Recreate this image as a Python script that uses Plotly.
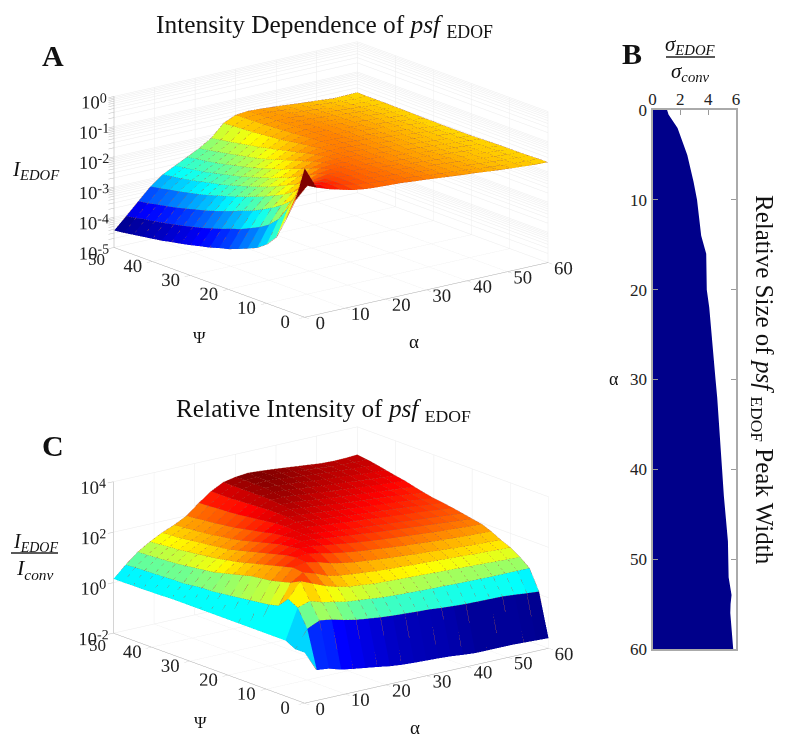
import plotly.graph_objects as go

ALPHA = [0,3,6,9,12,15,18,21,24,27,30,33,36,39,42,45,48,51,54,57,60]
PSI = [0,2.5,5,7.5,10,12.5,15,17.5,20,22.5,25,27.5,30,32.5,35,37.5,40,42.5,45,47.5,50]

# decades above 10^-5, one row per PSI
A_DECADES = [
[4.93,4.2,4.06,3.95,3.85,3.79,3.76,3.74,3.72,3.68,3.65,3.61,3.57,3.53,3.5,3.46,3.42,3.39,3.36,3.33,3.32],
[3.75,4.15,4.1,4.0,3.9,3.83,3.78,3.74,3.72,3.68,3.64,3.6,3.56,3.52,3.49,3.45,3.41,3.38,3.35,3.33,3.32],
[3.0,3.85,4.0,3.98,3.9,3.84,3.79,3.75,3.72,3.68,3.64,3.6,3.56,3.52,3.49,3.45,3.41,3.38,3.35,3.33,3.31],
[2.3,3.2,3.65,3.85,3.88,3.84,3.8,3.76,3.72,3.68,3.64,3.6,3.56,3.52,3.49,3.45,3.41,3.38,3.35,3.32,3.3],
[1.95,2.7,3.2,3.55,3.75,3.82,3.8,3.76,3.72,3.68,3.64,3.6,3.56,3.52,3.49,3.45,3.41,3.38,3.35,3.32,3.3],
[1.72,2.4,2.95,3.3,3.55,3.72,3.78,3.76,3.72,3.68,3.64,3.6,3.56,3.52,3.49,3.45,3.41,3.38,3.35,3.32,3.3],
[1.58,2.2,2.75,3.1,3.35,3.55,3.7,3.74,3.72,3.69,3.65,3.61,3.57,3.53,3.49,3.45,3.41,3.38,3.35,3.32,3.29],
[1.45,2.05,2.58,2.95,3.2,3.4,3.58,3.68,3.7,3.69,3.65,3.61,3.57,3.53,3.49,3.45,3.42,3.38,3.35,3.32,3.28],
[1.33,1.9,2.42,2.8,3.05,3.25,3.45,3.6,3.67,3.68,3.66,3.62,3.58,3.54,3.5,3.46,3.42,3.39,3.35,3.31,3.27],
[1.25,1.8,2.3,2.68,2.92,3.12,3.33,3.5,3.62,3.66,3.66,3.63,3.59,3.55,3.51,3.47,3.43,3.39,3.35,3.31,3.27],
[1.15,1.68,2.18,2.56,2.8,3.0,3.2,3.4,3.55,3.63,3.65,3.63,3.6,3.56,3.52,3.48,3.44,3.4,3.36,3.31,3.27],
[1.08,1.58,2.06,2.45,2.7,2.9,3.1,3.3,3.47,3.6,3.64,3.64,3.6,3.56,3.52,3.48,3.44,3.4,3.36,3.31,3.27],
[1.0,1.48,1.95,2.35,2.6,2.8,3.0,3.2,3.4,3.55,3.62,3.63,3.6,3.57,3.53,3.49,3.45,3.41,3.36,3.32,3.28],
[.93,1.4,1.85,2.25,2.5,2.7,2.9,3.1,3.32,3.5,3.6,3.62,3.6,3.57,3.53,3.49,3.45,3.41,3.37,3.32,3.28],
[.87,1.32,1.77,2.15,2.42,2.62,2.82,3.02,3.25,3.45,3.57,3.6,3.59,3.56,3.53,3.49,3.45,3.41,3.37,3.33,3.29],
[.8,1.25,1.68,2.07,2.35,2.55,2.75,2.95,3.18,3.42,3.55,3.58,3.58,3.55,3.52,3.48,3.45,3.41,3.37,3.33,3.3],
[.75,1.18,1.6,2.0,2.28,2.47,2.67,2.88,3.12,3.39,3.53,3.57,3.56,3.54,3.51,3.47,3.44,3.41,3.37,3.33,3.3],
[.7,1.12,1.53,1.93,2.2,2.4,2.6,2.82,3.06,3.36,3.51,3.55,3.55,3.52,3.49,3.46,3.43,3.4,3.36,3.33,3.31],
[.65,1.07,1.47,1.87,2.15,2.35,2.55,2.76,3.0,3.34,3.5,3.54,3.53,3.5,3.47,3.44,3.41,3.38,3.34,3.32,3.31],
[.6,1.0,1.4,1.8,2.1,2.3,2.5,2.7,2.95,3.32,3.49,3.53,3.51,3.48,3.45,3.42,3.39,3.36,3.32,3.31,3.31],
[.56,.95,1.35,1.75,2.05,2.25,2.45,2.65,2.9,3.3,3.48,3.52,3.5,3.47,3.44,3.4,3.37,3.34,3.3,3.31,3.32],
]

# decades above 10^-2, one row per PSI
C_DECADES = [
[2.0,1.2,1.15,1.0,.92,.85,.78,.7,.65,.62,.6,.58,.55,.5,.46,.46,.46,.46,.44,.42,.4],
[2.0,2.7,2.92,2.85,2.72,2.62,2.56,2.5,2.46,2.43,2.4,2.38,2.33,2.3,2.27,2.26,2.25,2.24,2.2,2.15,2.11],
[2.2,3.4,3.55,3.4,3.3,3.2,3.15,3.1,3.05,3.02,3.0,2.98,2.96,2.95,2.93,2.92,2.91,2.9,2.9,2.9,2.9],
[2.2,3.6,4.2,4.0,3.8,3.65,3.55,3.5,3.45,3.42,3.4,3.38,3.36,3.34,3.32,3.3,3.28,3.26,3.24,3.22,3.2],
[2.2,3.2,4.0,4.3,4.15,3.95,3.85,3.8,3.75,3.7,3.67,3.65,3.62,3.6,3.58,3.55,3.53,3.5,3.48,3.46,3.44],
[2.2,3.1,3.9,4.35,4.45,4.35,4.2,4.1,4.02,3.97,3.92,3.88,3.84,3.8,3.77,3.73,3.7,3.67,3.64,3.62,3.6],
[2.2,3.05,3.8,4.25,4.5,4.55,4.45,4.35,4.27,4.2,4.15,4.1,4.05,4.0,3.97,3.93,3.9,3.87,3.84,3.82,3.8],
[2.2,3.0,3.75,4.15,4.45,4.6,4.6,4.52,4.45,4.38,4.32,4.27,4.22,4.18,4.14,4.1,4.06,4.03,4.0,3.97,3.95],
[2.2,2.95,3.7,4.05,4.35,4.55,4.65,4.62,4.55,4.5,4.45,4.4,4.35,4.3,4.26,4.22,4.18,4.14,4.1,4.06,4.02],
[2.2,2.9,3.6,3.95,4.25,4.5,4.65,4.68,4.62,4.57,4.52,4.47,4.42,4.38,4.34,4.3,4.26,4.22,4.18,4.14,4.1],
[2.2,2.85,3.5,3.85,4.15,4.4,4.6,4.7,4.72,4.67,4.62,4.57,4.52,4.48,4.43,4.39,4.35,4.31,4.27,4.22,4.17],
[2.2,2.8,3.4,3.75,4.05,4.3,4.55,4.72,4.78,4.74,4.69,4.64,4.59,4.54,4.5,4.46,4.42,4.38,4.33,4.28,4.23],
[2.2,2.8,3.3,3.68,3.95,4.2,4.45,4.7,4.83,4.82,4.77,4.72,4.67,4.62,4.57,4.53,4.49,4.45,4.4,4.34,4.28],
[2.2,2.75,3.25,3.6,3.85,4.1,4.38,4.65,4.85,4.9,4.85,4.8,4.74,4.69,4.64,4.6,4.56,4.52,4.47,4.41,4.36],
[2.2,2.7,3.2,3.55,3.8,4.02,4.3,4.6,4.85,4.95,4.93,4.88,4.82,4.77,4.72,4.68,4.63,4.59,4.54,4.5,4.45],
[2.18,2.7,3.15,3.5,3.75,3.97,4.22,4.55,4.82,5.0,5.0,4.96,4.9,4.85,4.8,4.76,4.71,4.67,4.63,4.59,4.55],
[2.17,2.68,3.1,3.45,3.7,3.9,4.17,4.5,4.8,5.0,5.05,5.02,4.97,4.92,4.87,4.83,4.79,4.74,4.7,4.66,4.62],
[2.16,2.66,3.07,3.4,3.65,3.85,4.12,4.47,4.78,5.0,5.08,5.07,5.03,4.98,4.93,4.89,4.85,4.81,4.77,4.73,4.7],
[2.16,2.65,3.05,3.37,3.6,3.82,4.08,4.45,4.75,5.0,5.1,5.12,5.08,5.03,4.98,4.94,4.9,4.86,4.83,4.8,4.78],
[2.15,2.63,3.02,3.33,3.57,3.78,4.03,4.42,4.75,5.0,5.12,5.14,5.1,5.06,5.02,4.97,4.93,4.89,4.86,4.85,4.85],
[2.15,2.6,3.0,3.3,3.55,3.75,4.0,4.4,4.75,5.0,5.1,5.15,5.12,5.08,5.03,4.98,4.93,4.88,4.86,4.87,4.9],
]

B_ALPHA = [0,0.5,2,5,8,10,12,14,16,20,22,25,27,30,32,35,40,43,46,48,52,54,55,56,60]
B_RATIO = [1.05,1.15,1.8,2.5,2.95,3.2,3.35,3.5,3.86,3.9,4.08,4.24,4.32,4.53,4.65,4.8,5.0,5.13,5.32,5.42,5.47,5.68,5.61,5.59,5.8]

JET = [[0,"#00008f"],[0.125,"#0000ff"],[0.375,"#00ffff"],[0.625,"#ffff00"],[0.875,"#ff0000"],[1,"#800000"]]
SERIF = "Liberation Serif"
TXT = "#222222"
W, H = 790, 745

def mesh(decades, offset, scene, cmin, cmax):
    nx, ny = len(ALPHA), len(PSI)
    x, y, z, i, j, k, c = [], [], [], [], [], [], []
    for r in range(ny):
        for q in range(nx):
            x.append(ALPHA[q]); y.append(PSI[r]); z.append(10 ** (decades[r][q] + offset))
    for r in range(ny - 1):
        for q in range(nx - 1):
            a = r * nx + q; b = a + 1; d = a + nx; e = d + 1
            i += [a, a]; j += [b, e]; k += [e, d]
            c += [decades[r][q] + offset] * 2
    return go.Mesh3d(x=x, y=y, z=z, i=i, j=j, k=k, intensity=c, intensitymode="cell",
                     colorscale=JET, cmin=cmin, cmax=cmax, showscale=False, flatshading=True, hoverinfo="skip",
                     lighting=dict(ambient=1, diffuse=0, specular=0, fresnel=0, roughness=1),
                     scene=scene)

def wires(decades, offset, scene, lift):
    # the grid lines sit a hair nearer the viewer along the line of sight so the faces do not hide them
    da, dp = 0.14, 0.15
    def pt(r, q):
        return max(ALPHA[q] - da, 0), max(PSI[r] - dp, 0), 10 ** (decades[r][q] + offset + lift)
    lx, ly, lz = [], [], []
    for r in range(len(PSI)):
        for q in range(len(ALPHA)):
            a, b, c = pt(r, q); lx.append(a); ly.append(b); lz.append(c)
        lx.append(None); ly.append(None); lz.append(None)
    for q in range(len(ALPHA)):
        for r in range(len(PSI)):
            a, b, c = pt(r, q); lx.append(a); ly.append(b); lz.append(c)
        lx.append(None); ly.append(None); lz.append(None)
    return go.Scatter3d(x=lx, y=ly, z=lz, mode="lines", scene=scene, hoverinfo="skip", showlegend=False,
                        line=dict(color="rgba(110,60,50,0.65)", width=1))

fig = go.Figure()
fig.add_trace(mesh(A_DECADES, -5, "scene", -4.44, -0.3))
fig.add_trace(wires(A_DECADES, -5, "scene", 0.0113))
fig.add_trace(mesh(C_DECADES, -2, "scene2", -1.6, 3.15))
fig.add_trace(wires(C_DECADES, -2, "scene2", 0.0135))
fig.add_trace(go.Scatter(x=B_RATIO, y=B_ALPHA, xaxis="x", yaxis="y", mode="lines",
                         line=dict(color="#00008a", width=0), fill="tozerox",
                         fillcolor="#00008a", hoverinfo="skip", showlegend=False))

def axis3(rng, tv, tt=None, grid="#ebebeb", log=False):
    d = dict(range=rng, title=dict(text=""), showbackground=False, showgrid=True, gridcolor=grid, gridwidth=1,
             zeroline=False, showline=True, linecolor="#aaaaaa", linewidth=1, ticks="outside", ticklen=7,
             tickcolor="#bbbbbb", showspikes=False, tickmode="array", tickvals=tv, tickangle=0,
             tickfont=dict(family=SERIF, size=15, color=TXT))
    d["ticktext"] = tt if tt is not None else [str(v) for v in tv]
    if log:
        d["type"] = "log"
        d["ticklen"] = 3
    return d

ZA_V, ZA_T = [], []
for e in range(-5, 1):
    for m in range(1, 10):
        if e == 0 and m > 1:
            continue
        ZA_V.append(m * 10.0 ** e)
        ZA_T.append(f"10<sup>{e}</sup>" if m == 1 else "")
ZC_V = [1e-2, 1, 1e2, 1e4]
ZC_T = ["10<sup>-2</sup>", "10<sup>0</sup>", "10<sup>2</sup>", "10<sup>4</sup>"]
X_TICKS = [0, 10, 20, 30, 40, 50, 60]
Y_TICKS = [0, 10, 20, 30, 40, 50]
Y_TEXT = ["0", "10", "20", "30", "40", ""]

R = 4.0
S = 1.722
eye = dict(x=-0.591 * R, y=-0.754 * R, z=0.287 * R)
cam = dict(eye=eye, center=dict(x=0, y=0, z=0), up=dict(x=0, y=0, z=1), projection=dict(type="orthographic"))

def pan(x0, x1, y0, y1):
    return dict(x=[x0 / W, x1 / W], y=[1 - y1 / H, 1 - y0 / H])

fig.update_layout(
    width=W, height=H, autosize=False, margin=dict(l=0, r=0, t=0, b=0, pad=0, autoexpand=False),
    paper_bgcolor="white", plot_bgcolor="white", showlegend=False,
    font=dict(family=SERIF, color=TXT),
    scene=dict(domain=pan(0, 662, 0, 359), camera=cam, aspectmode="manual",
               aspectratio=dict(x=S, y=S, z=0.51 * S),
               xaxis=axis3([0, 60], X_TICKS),
               yaxis=axis3([0, 50], Y_TICKS, Y_TEXT),
               zaxis=axis3([-5, 0], ZA_V, ZA_T, log=True)),
    scene2=dict(domain=pan(0, 662, 385, 745), camera=cam, aspectmode="manual",
                aspectratio=dict(x=S, y=S, z=0.51 * S),
                xaxis=axis3([0, 60], X_TICKS),
                yaxis=axis3([0, 50], Y_TICKS, Y_TEXT),
                zaxis=axis3([-2, 4], ZC_V, ZC_T, log=True)),
    xaxis=dict(domain=[652.5 / W, 736 / W], range=[0, 6], side="top", anchor="y", tickvals=[0, 2, 4, 6],
               ticks="inside", ticklen=5, tickcolor="#999999", showline=True, linecolor="#aaaaaa", linewidth=2,
               mirror=True, showgrid=False, zeroline=False, ticklabelstandoff=-4,
               tickfont=dict(family=SERIF, size=17, color=TXT)),
    yaxis=dict(domain=[1 - 649 / H, 1 - 110 / H], range=[60, 0], anchor="x", tickvals=[0, 10, 20, 30, 40, 50, 60],
               ticks="inside", ticklen=5, tickcolor="#999999", showline=True, linecolor="#aaaaaa", linewidth=2,
               mirror="ticks", showgrid=False, zeroline=False, tickfont=dict(family=SERIF, size=17, color=TXT)),
)

def note(text, px, py, size, angle=0, color="#111111"):
    fig.add_annotation(text=text, xref="paper", yref="paper", x=px / W, y=1 - py / H, showarrow=False,
                       xanchor="center", yanchor="middle", textangle=angle,
                       font=dict(family=SERIF, size=size, color=color))

note("Intensity Dependence of <i>psf</i> <sub>EDOF</sub>", 324, 26, 25.4)
note("Relative Intensity of <i>psf</i> <sub>EDOF</sub>", 323, 410, 25.3)
note("<b>A</b>", 53, 55, 30)
note("<b>B</b>", 632, 53, 30)
note("<b>C</b>", 53, 445, 30)
note("50", 96, 260, 17, color=TXT); note("50", 97, 645, 17, color=TXT)
note("Ψ", 199, 337, 17); note("α", 414, 342, 19)
note("Ψ", 200, 722, 17); note("α", 415, 727, 19)
note("<i>I<sub>EDOF</sub></i>", 36, 170, 21)
note("<i>I<sub>EDOF</sub></i>", 35, 542, 20)
note("<i>I<sub>conv</sub></i>", 35, 569, 22)
note("<i>σ<sub>EDOF</sub></i>", 690, 45, 21)
note("<i>σ<sub>conv</sub></i>", 690, 72, 21)
note("α", 614, 379, 18)
note("Relative Size of <i>psf</i> <sub>EDOF</sub> Peak Width", 763, 380, 25, angle=90)
fig.add_shape(type="line", xref="paper", yref="paper", x0=11 / W, x1=58 / W, y0=1 - 553 / H, y1=1 - 553 / H,
              line=dict(color="#222222", width=1.5))
fig.add_shape(type="line", xref="paper", yref="paper", x0=666 / W, x1=715 / W, y0=1 - 57 / H, y1=1 - 57 / H,
              line=dict(color="#222222", width=1.5))

fig.write_html("out.html", post_script="document.body.style.margin='0';", config=dict(displayModeBar=False))
